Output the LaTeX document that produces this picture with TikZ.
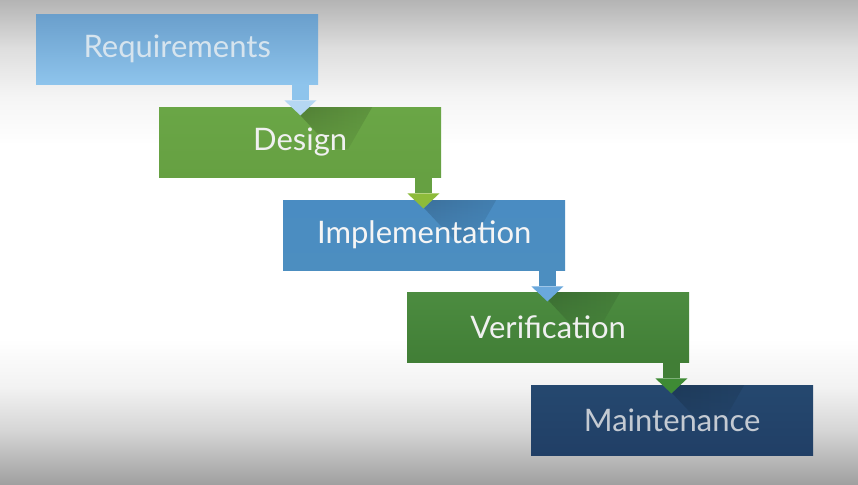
\documentclass[tikz,border=0pt]{standalone}
\usepackage{fontspec}
\setmainfont{Lato}
\usetikzlibrary{fadings}
\definecolor{reqA}{HTML}{6A9FCC}
\definecolor{reqB}{HTML}{8EC4EC}
\definecolor{desA}{HTML}{6AA646}
\definecolor{desB}{HTML}{66A042}
\definecolor{impA}{HTML}{4A8CC2}
\definecolor{impB}{HTML}{4C8EC0}
\definecolor{verA}{HTML}{4C8C40}
\definecolor{verB}{HTML}{417E36}
\definecolor{mntA}{HTML}{25486F}
\definecolor{mntB}{HTML}{213F66}
\definecolor{reqHead}{HTML}{B5D7F2}
\definecolor{desHead}{HTML}{8DBB3A}
\definecolor{impHead}{HTML}{6AA8DC}
\definecolor{verHead}{HTML}{3E8A34}
\definecolor{reqText}{HTML}{D6E4EE}
\definecolor{mntText}{HTML}{C4CAD2}
\definecolor{bgTop}{HTML}{B4B4B4}
\definecolor{bgBot}{HTML}{A0A0A0}
\pgfdeclareverticalshading{bgshade}{100bp}{color(0bp)=(bgBot); color(25bp)=(bgBot); color(30.6bp)=(black!16); color(35bp)=(black!5); color(40bp)=(white); color(60bp)=(white); color(65bp)=(black!4); color(70bp)=(black!13); color(75bp)=(bgTop); color(100bp)=(bgTop)}
\tikzset{
  x=1pt, y=-1pt,
  phase/.style 2 args={minimum width=282pt, minimum height=70pt, inner sep=0pt,
    font=\fontsize{31}{34}\selectfont, anchor=north west,
    path picture={
      \path[left color=#1, right color=#2, path fading=south]
        ([xshift=141pt,yshift=-8pt]path picture bounding box.north west)
        -- ++(8,-8) -- ++(64,0) -- ++(-24,42) -- ++(-16,0) -- cycle;
    }},
}
% arrow from the south-east corner of box #1: shaft colour #2, head colour #3
\newcommand{\phasearrow}[3]{%
  \path (#1.south east) ++(-18,0) coordinate (#1-a);
  \fill[#2] (#1-a) ++(-8.5,0) rectangle ++(17,16);
  \fill[#3] (#1-a) ++(-16,16) -- ++(32,0) -- ++(-16,15) -- cycle;
}
\begin{document}
\begin{tikzpicture}
\useasboundingbox (0,0) rectangle (858,484);
\shade[shading=bgshade] (0,0) rectangle (858,484);

\node[phase={reqA}{reqA}, path picture={}, top color=reqA, bottom color=reqB, text=reqText] (req) at (36,14) {Requirements};
\node[phase={desA!55!black}{desA}, top color=desA, bottom color=desB, text=white!94!black] (des) at (159,107) {Design};
\node[phase={impA!62!black}{impA}, top color=impA, bottom color=impB, text=white!96!black] (imp) at (283,200) {Implementation};
\node[phase={verA!58!black}{verA}, top color=verA, bottom color=verB, text=white!94!black] (ver) at (407,292) {Verification};
\node[phase={mntA!60!black}{mntA}, top color=mntA, bottom color=mntB, text=mntText] (mnt) at (531,385) {Maintenance};

\phasearrow{req}{reqB}{reqHead}
\phasearrow{des}{desB}{desHead}
\phasearrow{imp}{impB}{impHead}
\phasearrow{ver}{verB}{verHead}
\end{tikzpicture}
\end{document}
